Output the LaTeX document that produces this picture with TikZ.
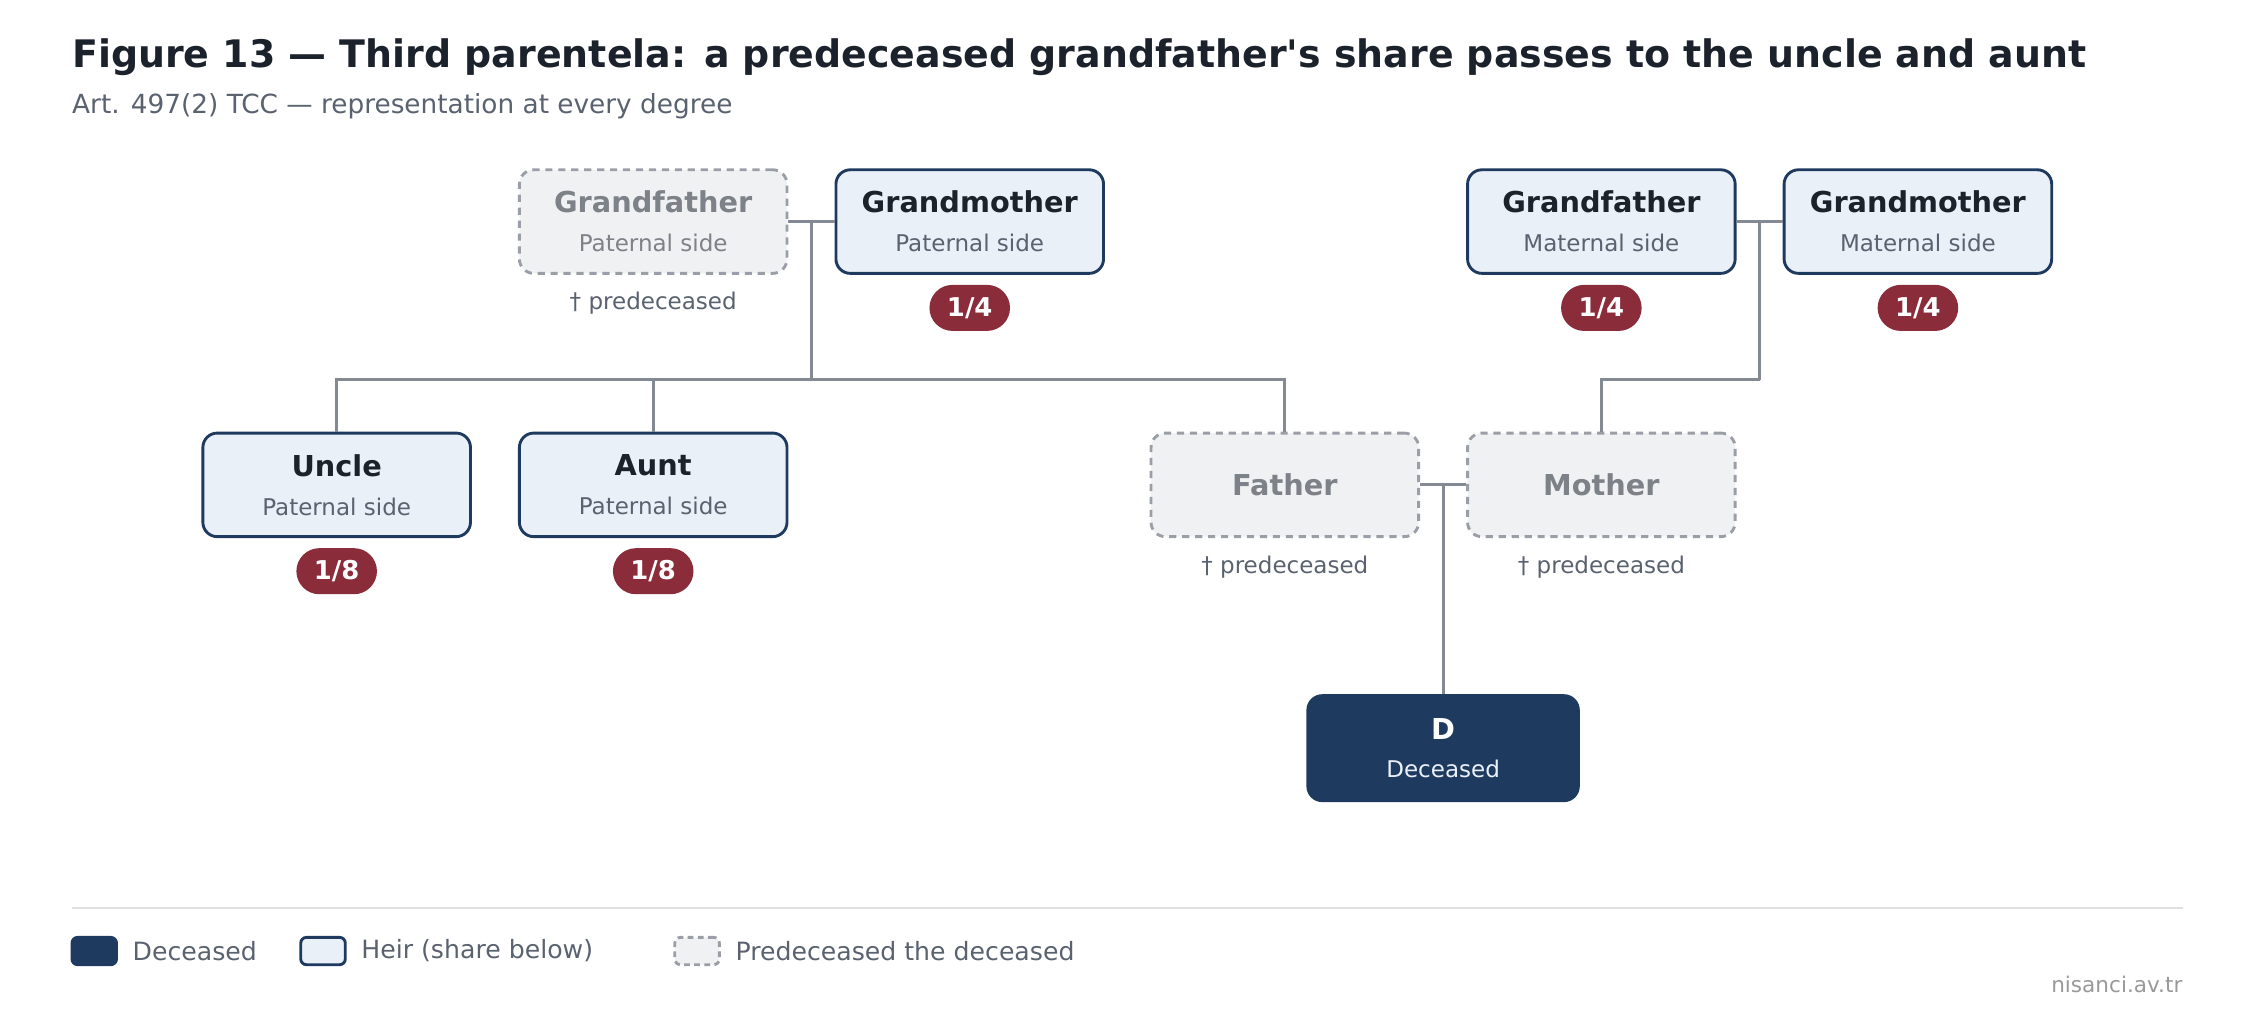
\documentclass[tikz,border=0pt]{standalone}
\usepackage{fontspec}
\setmainfont{DejaVu Sans}
\definecolor{navy}{HTML}{1F3A5F}
\definecolor{heirfill}{HTML}{EAF0F8}
\definecolor{pfill}{HTML}{F0F1F3}
\definecolor{pdash}{HTML}{9A9EA6}
\definecolor{ptext}{HTML}{7D8188}
\definecolor{sub}{HTML}{5A6270}
\definecolor{badge}{HTML}{8B2C3A}
\definecolor{conn}{HTML}{848A94}
\definecolor{ink}{HTML}{1C222B}
\newcommand{\nmf}{\fontsize{20}{27}\selectfont\bfseries}
\newcommand{\sdf}{\fontsize{16}{27}\selectfont}
\begin{document}
\begin{tikzpicture}[x=1pt,y=-1pt,
 box/.style={rounded corners=10pt,minimum width=186pt,minimum height=72pt,align=center,line width=2pt,inner sep=0pt,font=\fontsize{16}{27}\selectfont},
 heir/.style={box,draw=navy,fill=heirfill,text=ink},
 pre/.style={box,draw=pdash,fill=pfill,dashed,dash pattern=on 5pt off 4pt,text=ptext},
 dec/.style={box,draw=navy,fill=navy,text=white},
 badge/.style={rounded corners=16pt,fill=badge,text=white,minimum width=56pt,minimum height=32pt,inner sep=0pt,font=\fontsize{18}{20}\selectfont\bfseries},
 note/.style={text=sub,font=\fontsize{16}{18}\selectfont},
 conn/.style={draw=conn,line width=2.2pt},
 leg/.style={anchor=west,inner sep=0pt,text=sub,font=\fontsize{17.5}{20}\selectfont}]
\useasboundingbox (0,0) rectangle (1568,706);
\node[anchor=base west,inner sep=0pt,text=ink,font=\fontsize{26.35}{30}\selectfont\bfseries] (title) at (50,47) {Figure 13 — Third parentela: a predeceased grandfather\textquotesingle s share passes to the uncle and aunt};
\node[anchor=base west,inner sep=0pt,text=sub,font=\fontsize{18.3}{22}\selectfont] (subt) at (50,79) {Art. 497(2) TCC — representation at every degree};

\node[pre] (gfp) at (454,154) {{\nmf Grandfather}\\{\sdf Paternal side}};
\node[heir] (gmp) at (674,154) {{\nmf Grandmother}\\{\sdf\color{sub}Paternal side}};
\node[heir] (gfm) at (1113,154) {{\nmf Grandfather}\\{\sdf\color{sub}Maternal side}};
\node[heir] (gmm) at (1333,154) {{\nmf Grandmother}\\{\sdf\color{sub}Maternal side}};
\node[heir] (unc) at (234,337) {{\nmf Uncle}\\{\sdf\color{sub}Paternal side}};
\node[heir] (aunt) at (454,337) {{\nmf Aunt}\\{\sdf\color{sub}Paternal side}};
\node[pre] (fa) at (893,337) {{\nmf Father}};
\node[pre] (mo) at (1113,337) {{\nmf Mother}};
\node[dec,minimum width=188pt,minimum height=73pt] (d) at (1003,520) {{\nmf D}\\{\sdf\color{heirfill}Deceased}};

\node[badge] (b1) at (674,214) {1/4};
\node[badge] (b2) at (1113,214) {1/4};
\node[badge] (b3) at (1333,214) {1/4};
\node[badge] (b4) at (234,397) {1/8};
\node[badge] (b5) at (454,397) {1/8};
\node[note] (n1) at (454,211) {† predeceased};
\node[note] (n2) at (893,394) {† predeceased};
\node[note] (n3) at (1113,394) {† predeceased};

\coordinate (pm) at (564,154);
\coordinate (pj) at (564,264);
\coordinate (mm) at (1223,154);
\coordinate (mj) at (1223,264);
\coordinate (fm) at (1003,337);
\draw[conn] (gfp.east) -- (gmp.west);
\draw[conn] (pm) -- (pj);
\draw[conn] (unc.north) |- (pj);
\draw[conn] (aunt.north) -- (aunt.north |- pj);
\draw[conn] (fa.north) |- (pj);
\draw[conn] (gfm.east) -- (gmm.west);
\draw[conn] (mm) -- (mj);
\draw[conn] (mo.north) |- (mj);
\draw[conn] (fa.east) -- (mo.west);
\draw[conn] (fm) -- (d.north);

\draw[draw=black!12,line width=1pt] (50,631) coordinate (l1) -- (1517,631) coordinate (l2);
\node[box,draw=navy,fill=navy,minimum width=31pt,minimum height=19pt,rounded corners=4pt] (k1) at (65.5,661) {};
\node[box,draw=navy,fill=heirfill,minimum width=31pt,minimum height=19pt,rounded corners=4pt] (k2) at (224.5,661) {};
\node[box,draw=pdash,fill=pfill,dashed,dash pattern=on 4pt off 3pt,minimum width=31pt,minimum height=19pt,rounded corners=4pt] (k3) at (484.5,661) {};
\node[leg] (t1) at (92,661) {Deceased};
\node[leg] (t2) at (251,661) {Heir (share below)};
\node[leg] (t3) at (511,661) {Predeceased the deceased};
\node[anchor=base east,inner sep=0pt,text=black!40,font=\fontsize{15}{18}\selectfont] (ft) at (1517,690) {nisanci.av.tr};
\end{tikzpicture}
\end{document}
